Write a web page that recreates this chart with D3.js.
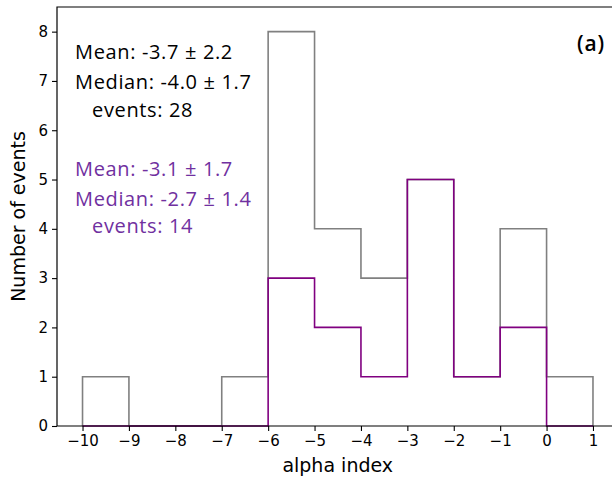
<!DOCTYPE html>
<html>
<head>
<meta charset="utf-8">
<script src="https://cdn.jsdelivr.net/npm/d3@7"></script>
<style>
  html, body { margin: 0; padding: 0; background: #fff; }
  svg { display: block; }
</style>
</head>
<body>
<svg id="chart" width="612" height="478"></svg>
<script>
// Histogram bin edges (alpha index) and counts per bin
const binEdges = [-10, -9, -8, -7, -6, -5, -4, -3, -2, -1, 0, 1];
const allCounts = [1, 0, 0, 1, 8, 4, 3, 5, 1, 4, 1];
const subsetCounts = [0, 0, 0, 0, 3, 2, 1, 5, 1, 2, 0];

const xTicks = [-10, -9, -8, -7, -6, -5, -4, -3, -2, -1, 0, 1];
const yTicks = [0, 1, 2, 3, 4, 5, 6, 7, 8];

const allStats = ["Mean: -3.7 \u00b1 2.2", "Median: -4.0 \u00b1 1.7", "events: 28"];
const subsetStats = ["Mean: -3.1 \u00b1 1.7", "Median: -2.7 \u00b1 1.4", "events: 14"];

const svg = d3.select("#chart");
const plotLeft = 57, plotRight = 618.5, plotTop = 7, plotBottom = 426;

const x = d3.scaleLinear().domain([-10.55, 1.55]).range([plotLeft, plotRight]);
const y = d3.scaleLinear().domain([0, 8.5]).range([plotBottom, plotTop]);

// Outline of a step histogram from bin edges and counts
function stepPoints(edges, counts) {
  const pts = [[edges[0], 0]];
  counts.forEach((c, i) => {
    pts.push([edges[i], c]);
    pts.push([edges[i + 1], c]);
  });
  pts.push([edges[edges.length - 1], 0]);
  return pts;
}
const line = d3.line().x(d => x(d[0])).y(d => y(d[1]));

svg.append("path")
  .attr("d", line(stepPoints(binEdges, allCounts)))
  .attr("fill", "none")
  .attr("stroke", "#808080")
  .attr("stroke-width", 1.6);

svg.append("path")
  .attr("d", line(stepPoints(binEdges, subsetCounts)))
  .attr("fill", "none")
  .attr("stroke", "#800080")
  .attr("stroke-width", 1.6);

// Frame (spines)
svg.append("path")
  .attr("d", `M${plotRight},${plotTop}H${plotLeft}V${plotBottom}H${plotRight}`)
  .attr("fill", "none")
  .attr("stroke", "#000")
  .attr("stroke-width", 1.2);

// Axes
const xAxis = d3.axisBottom(x).tickValues(xTicks).tickSize(5).tickPadding(4)
  .tickFormat(d => d < 0 ? "\u2212" + Math.abs(d) : String(d));
const gx = svg.append("g").attr("transform", `translate(0,${plotBottom})`).call(xAxis);
const yAxis = d3.axisLeft(y).tickValues(yTicks).tickSize(5).tickPadding(4);
const gy = svg.append("g").attr("transform", `translate(${plotLeft},0)`).call(yAxis);
[gx, gy].forEach(g => {
  g.select(".domain").remove();
  g.selectAll(".tick line").attr("stroke", "#000").attr("stroke-width", 1.1);
  g.selectAll(".tick text").attr("fill", "#000")
    .style("font-family", "'DejaVu Sans', sans-serif").style("font-size", "15px");
});

// Axis titles
svg.append("text")
  .attr("x", (plotLeft + plotRight) / 2).attr("y", 472)
  .attr("text-anchor", "middle")
  .style("font-family", "'DejaVu Sans', sans-serif").style("font-size", "19px")
  .text("alpha index");
svg.append("text")
  .attr("transform", `translate(25,${(plotTop + plotBottom) / 2}) rotate(-90)`)
  .attr("text-anchor", "middle")
  .style("font-family", "'DejaVu Sans', sans-serif").style("font-size", "19px")
  .text("Number of events");

// Summary statistics
const statFont = "'Open Sans', Lato, sans-serif";
const statRows = [
  { text: allStats[0], x: 75, y: 59, color: "#000" },
  { text: allStats[1], x: 75, y: 89, color: "#000" },
  { text: allStats[2], x: 92, y: 117, color: "#000" },
  { text: subsetStats[0], x: 75, y: 176, color: "#7030A0" },
  { text: subsetStats[1], x: 75, y: 206, color: "#7030A0" },
  { text: subsetStats[2], x: 92, y: 233, color: "#7030A0" }
];
svg.selectAll("text.stat").data(statRows).join("text")
  .attr("class", "stat")
  .attr("x", d => d.x).attr("y", d => d.y)
  .attr("fill", d => d.color)
  .style("font-family", statFont).style("font-size", "20px")
  .style("letter-spacing", "0.65px")
  .text(d => d.text);

svg.append("text")
  .attr("x", 577).attr("y", 51)
  .style("font-family", statFont).style("font-size", "21px").style("font-weight", "600")
  .style("letter-spacing", "0.8px")
  .text("(a)");
</script>
</body>
</html>
